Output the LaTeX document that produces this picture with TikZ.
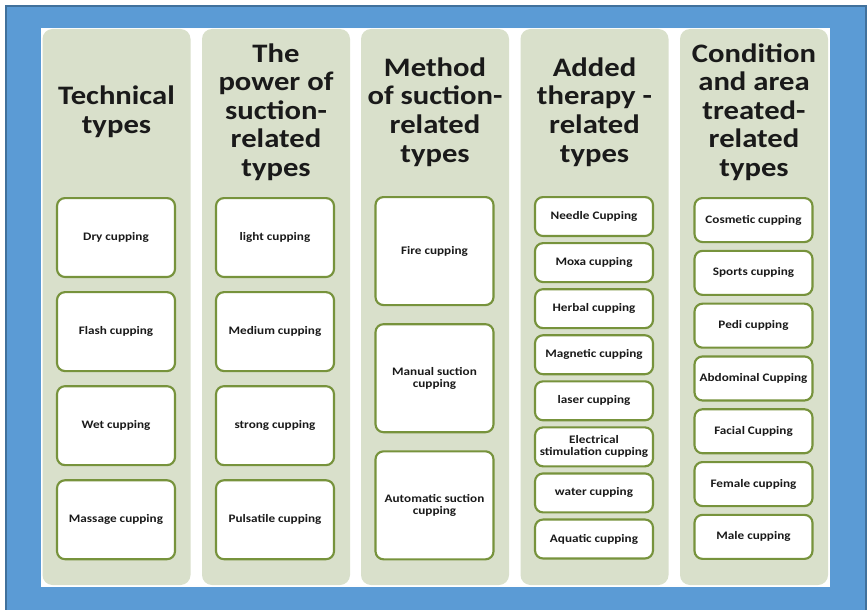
\documentclass[tikz,border=0pt]{standalone}
\usepackage{fontspec}
\setmainfont{Carlito}[FakeStretch=1.15]
\usetikzlibrary{positioning}
\definecolor{frameblue}{HTML}{5B9BD5}
\definecolor{frameedge}{HTML}{41719C}
\definecolor{colfill}{HTML}{D9E0CB}
\definecolor{boxgreen}{HTML}{77933C}
\definecolor{inktext}{HTML}{1A1A1A}
\tikzstyle{column} = [rectangle, rounded corners=7.5pt, fill=colfill, minimum width=111pt, minimum height=417pt, inner sep=0pt]
\tikzstyle{heading} = [align=center, text=inktext, font=\fontsize{20}{21.4}\selectfont\bfseries]
\tikzstyle{kind} = [rectangle, rounded corners=6pt, draw=boxgreen, line width=1.6pt, fill=white, minimum width=88.5pt, align=center, text=inktext, font=\fontsize{8.6}{9}\selectfont\bfseries, inner sep=1pt]

\begin{document}
\begin{tikzpicture}[
            x=0.75pt, y=-0.75pt,
            tall/.style={kind, minimum height=59.2pt},
            huge/.style={kind, minimum height=81pt},
            slim/.style={kind, minimum height=29.2pt},
            mid/.style={kind, minimum height=33pt}
        ]
            \useasboundingbox (0,0) rectangle (868,610);
            % Frame
            \node (frame) [draw=frameedge, line width=1.5pt, fill=frameblue, minimum width=645pt, minimum height=460pt, inner sep=0pt, anchor=north west] at (5,5) {};
            \node (sheet) [fill=white, minimum width=591.75pt, minimum height=419.25pt, inner sep=0pt, anchor=north west] at (41,28) {};

            % Columns
            \node (col1) [column] at (116.5,307) {};
            \node (col2) [column] at (276,307) {};
            \node (col3) [column] at (435,307) {};
            \node (col4) [column] at (594.5,307) {};
            \node (col5) [column] at (754,307) {};

            % Headings
            \node (head1) [heading] at (116.5,112) {Technical\\types};
            \node (head2) [heading] at (276,112) {The\\power of\\suction-\\related\\types};
            \node (head3) [heading] at (435,112) {Method\\of suction-\\related\\types};
            \node (head4) [heading] at (594.5,112) {Added\\therapy -\\related\\types};
            \node (head5) [heading] at (754,112) {Condition\\and area\\treated-\\related\\types};

            % Technical types
            \node (dry) [tall, anchor=north] at (116,197) {Dry cupping};
            \node (flash) [tall, below=9.75pt of dry] {Flash cupping};
            \node (wet) [tall, below=9.75pt of flash] {Wet cupping};
            \node (massage) [tall, below=9.75pt of wet] {Massage cupping};

            % Power of suction
            \node (light) [tall, anchor=north] at (275,197) {light cupping};
            \node (medium) [tall, below=9.75pt of light] {Medium cupping};
            \node (strong) [tall, below=9.75pt of medium] {strong cupping};
            \node (pulsatile) [tall, below=9.75pt of strong] {Pulsatile cupping};

            % Method of suction
            \node (fire) [huge, anchor=north] at (434.5,196) {Fire cupping};
            \node (manual) [huge, below=12.75pt of fire] {Manual suction\\cupping};
            \node (automatic) [huge, below=12.75pt of manual] {Automatic suction\\cupping};

            % Added therapy
            \node (needle) [slim, anchor=north] at (594,196) {Needle Cupping};
            \node (moxa) [slim, below=3.75pt of needle] {Moxa cupping};
            \node (herbal) [slim, below=3.75pt of moxa] {Herbal cupping};
            \node (magnetic) [slim, below=3.75pt of herbal] {Magnetic cupping};
            \node (laser) [slim, below=3.75pt of magnetic] {laser cupping};
            \node (electrical) [slim, below=3.75pt of laser] {Electrical\\stimulation cupping};
            \node (water) [slim, below=3.75pt of electrical] {water cupping};
            \node (aquatic) [slim, below=3.75pt of water] {Aquatic cupping};

            % Condition and area
            \node (cosmetic) [mid, anchor=north] at (753.5,197) {Cosmetic cupping};
            \node (sports) [mid, below=5pt of cosmetic] {Sports cupping};
            \node (pedi) [mid, below=5pt of sports] {Pedi cupping};
            \node (abdominal) [mid, below=5pt of pedi] {Abdominal Cupping};
            \node (facial) [mid, below=5pt of abdominal] {Facial Cupping};
            \node (female) [mid, below=5pt of facial] {Female cupping};
            \node (male) [mid, below=5pt of female] {Male cupping};
        \end{tikzpicture}
\end{document}
